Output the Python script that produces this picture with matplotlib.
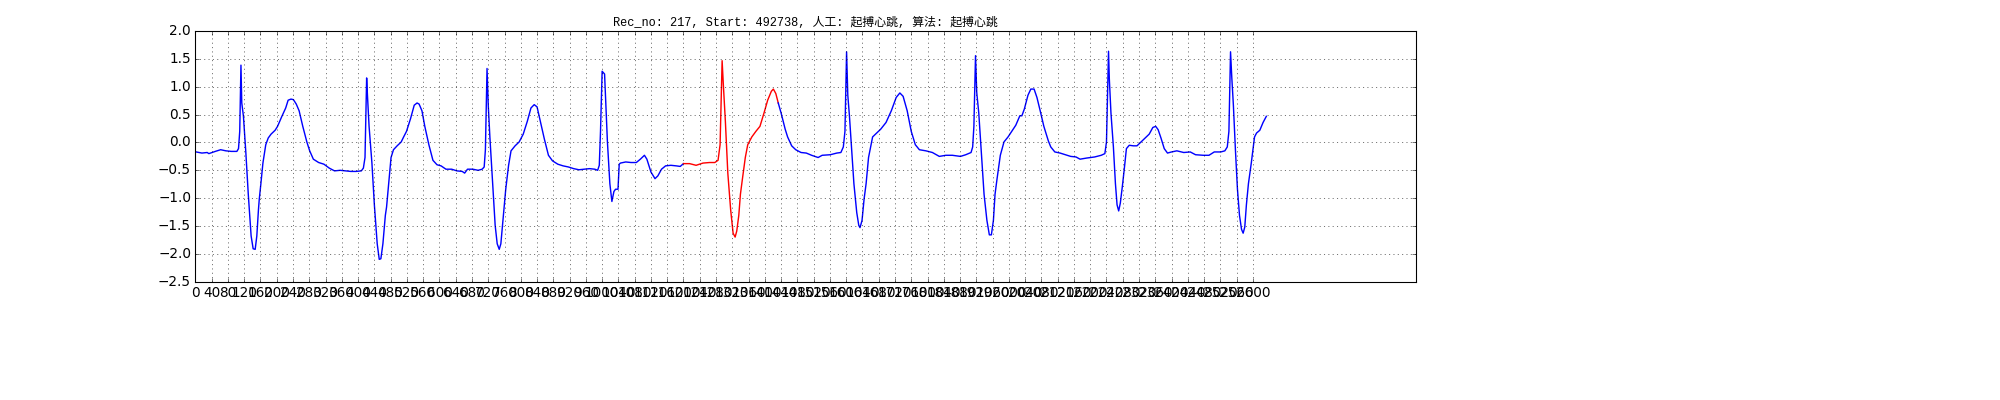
import numpy as np
import matplotlib
matplotlib.use("Agg")
import matplotlib.pyplot as plt

plt.style.use("classic")

# ECG trace (sample index, amplitude)
sig_x = [2, 16, 29, 33, 49, 62, 75, 88, 102, 106, 109, 112, 114, 118, 124, 130, 137, 142, 147, 151,
         155, 157, 161, 166, 173, 179, 186, 196, 202, 212, 222, 228, 235, 241, 248, 255, 264, 274, 281, 290,
         303, 316, 329, 342, 356, 369, 382, 395, 408, 413, 417, 421, 423, 427, 434, 440, 447, 452, 456, 461,
         467, 470, 474, 481, 487, 496, 506, 512, 519, 529, 538, 545, 550, 557, 564, 574, 584, 594, 604, 616,
         630, 643, 656, 662, 669, 682, 695, 705, 710, 713, 717, 720, 724, 731, 737, 742, 747, 751, 755, 759,
         763, 770, 776, 786, 796, 806, 816, 825, 833, 840, 848, 858, 868, 878, 891, 904, 917, 930, 943, 956,
         969, 982, 989, 993, 996, 1000, 1006, 1013, 1019, 1024, 1029, 1033, 1039, 1042, 1045, 1058, 1071, 1084, 1094, 1104,
         1110, 1120, 1130, 1137, 1146, 1156, 1169, 1182, 1192, 1200, 1215, 1231, 1248, 1264, 1277, 1285, 1290, 1295, 1298, 1303,
         1309, 1316, 1322, 1327, 1331, 1336, 1340, 1345, 1352, 1358, 1368, 1378, 1388, 1398, 1407, 1416, 1421, 1427, 1433, 1440,
         1450, 1456, 1466, 1476, 1489, 1502, 1515, 1531, 1541, 1561, 1577, 1587, 1593, 1597, 1601, 1604, 1608, 1613, 1619, 1626,
         1631, 1634, 1639, 1644, 1649, 1655, 1665, 1675, 1685, 1698, 1711, 1723, 1732, 1740, 1750, 1760, 1770, 1780, 1796, 1812,
         1829, 1845, 1861, 1881, 1894, 1907, 1911, 1914, 1918, 1921, 1926, 1933, 1939, 1946, 1952, 1957, 1962, 1966, 1971, 1979,
         1988, 1998, 2007, 2017, 2027, 2032, 2038, 2047, 2054, 2062, 2069, 2077, 2086, 2097, 2103, 2113, 2126, 2139, 2152, 2165,
         2175, 2191, 2211, 2227, 2236, 2240, 2245, 2247, 2251, 2257, 2262, 2266, 2270, 2274, 2279, 2284, 2289, 2296, 2306, 2315,
         2325, 2335, 2345, 2354, 2361, 2367, 2374, 2382, 2390, 2400, 2413, 2430, 2446, 2459, 2478, 2492, 2505, 2521, 2531, 2537,
         2541, 2545, 2548, 2552, 2557, 2562, 2567, 2572, 2576, 2580, 2584, 2589, 2596, 2604, 2609, 2617, 2625, 2633]
sig_y = [-0.17, -0.19, -0.18, -0.20, -0.16, -0.13, -0.15, -0.16, -0.16, -0.11, 0.20, 1.39, 0.71, 0.48, -0.18, -0.93, -1.68, -1.91, -1.92, -1.68,
         -1.21, -1.02, -0.74, -0.37, -0.04, 0.08, 0.15, 0.22, 0.29, 0.46, 0.62, 0.76, 0.78, 0.77, 0.69, 0.57, 0.29, 0.01, -0.15, -0.30,
         -0.36, -0.39, -0.46, -0.51, -0.50, -0.51, -0.52, -0.52, -0.51, -0.46, -0.27, 1.16, 0.85, 0.29, -0.37, -1.12, -1.82, -2.10, -2.09, -1.82,
         -1.31, -1.16, -0.84, -0.27, -0.13, -0.06, 0.01, 0.10, 0.20, 0.43, 0.67, 0.71, 0.69, 0.57, 0.29, -0.04, -0.32, -0.40, -0.42, -0.48,
         -0.48, -0.51, -0.52, -0.55, -0.48, -0.48, -0.50, -0.48, -0.44, -0.13, 1.33, 0.67, 0.10, -0.74, -1.49, -1.82, -1.92, -1.82, -1.49, -1.16,
         -0.84, -0.41, -0.15, -0.06, 0.01, 0.15, 0.38, 0.62, 0.68, 0.64, 0.38, 0.06, -0.23, -0.33, -0.39, -0.42, -0.44, -0.47, -0.49, -0.48,
         -0.47, -0.48, -0.50, -0.41, 0.20, 1.28, 1.23, 0.01, -0.74, -1.06, -0.88, -0.84, -0.84, -0.39, -0.37, -0.35, -0.36, -0.36, -0.30, -0.23,
         -0.30, -0.53, -0.65, -0.60, -0.48, -0.42, -0.41, -0.42, -0.43, -0.38, -0.38, -0.41, -0.37, -0.36, -0.36, -0.32, -0.04, 1.47, 1.04, 0.38,
         -0.55, -1.21, -1.63, -1.70, -1.59, -1.31, -0.93, -0.65, -0.27, -0.04, 0.10, 0.20, 0.29, 0.53, 0.76, 0.92, 0.96, 0.88, 0.71, 0.53,
         0.24, 0.10, -0.06, -0.13, -0.18, -0.19, -0.23, -0.27, -0.23, -0.22, -0.19, -0.18, -0.08, 0.20, 1.63, 0.85, 0.48, -0.08, -0.74, -1.26,
         -1.49, -1.53, -1.40, -1.02, -0.74, -0.27, 0.10, 0.17, 0.24, 0.36, 0.57, 0.81, 0.89, 0.83, 0.57, 0.20, -0.04, -0.13, -0.15, -0.18,
         -0.25, -0.23, -0.23, -0.25, -0.22, -0.18, -0.08, 0.29, 1.56, 0.90, 0.53, -0.27, -0.93, -1.40, -1.66, -1.66, -1.40, -0.93, -0.65, -0.23,
         0.01, 0.10, 0.20, 0.31, 0.48, 0.48, 0.60, 0.85, 0.96, 0.96, 0.81, 0.57, 0.29, 0.03, -0.08, -0.17, -0.19, -0.22, -0.25, -0.26,
         -0.30, -0.28, -0.26, -0.23, -0.20, 0.01, 1.64, 1.14, 0.53, -0.08, -0.74, -1.12, -1.23, -1.09, -0.79, -0.46, -0.11, -0.05, -0.06, -0.06,
         0.01, 0.08, 0.15, 0.27, 0.29, 0.23, 0.08, -0.11, -0.19, -0.17, -0.15, -0.18, -0.17, -0.22, -0.23, -0.23, -0.17, -0.17, -0.15, -0.08,
         0.20, 1.63, 1.18, 0.67, -0.13, -0.84, -1.31, -1.56, -1.63, -1.52, -1.12, -0.74, -0.37, 0.10, 0.17, 0.22, 0.36, 0.47]

# highlighted beat (sample range)
beat_start, beat_end = 1200, 1433

title = "Rec_no: 217, Start: 492738, 人工: 起搏心跳, 算法: 起搏心跳"
xtick_vals = list(range(0, 2601, 40))

sig_x = np.array(sig_x)
sig_y = np.array(sig_y)
before = sig_x <= beat_start
seg = (sig_x >= beat_start) & (sig_x <= beat_end)
after = sig_x >= beat_end

fig = plt.figure(figsize=(25.6, 5.12), dpi=78.125, facecolor="white")
ax = fig.add_axes([0.0977, 0.296, 0.6101, 0.626])

ax.plot(sig_x[before], sig_y[before], "b-", lw=1.3)
ax.plot(sig_x[seg], sig_y[seg], "r-", lw=1.3)
ax.plot(sig_x[after], sig_y[after], "b-", lw=1.3)

ax.set_xlim(0, 3000)
ax.set_ylim(-2.5, 2.0)
ax.set_xticks(xtick_vals)
ax.set_yticks(np.arange(-2.5, 2.01, 0.5))
ax.tick_params(labelsize=12.5)
ax.grid(True)
ax.set_title(title, fontsize=11, family=["Liberation Mono", "Noto Sans CJK SC"])

fig.savefig("out.png", dpi=78.125, facecolor="white")
